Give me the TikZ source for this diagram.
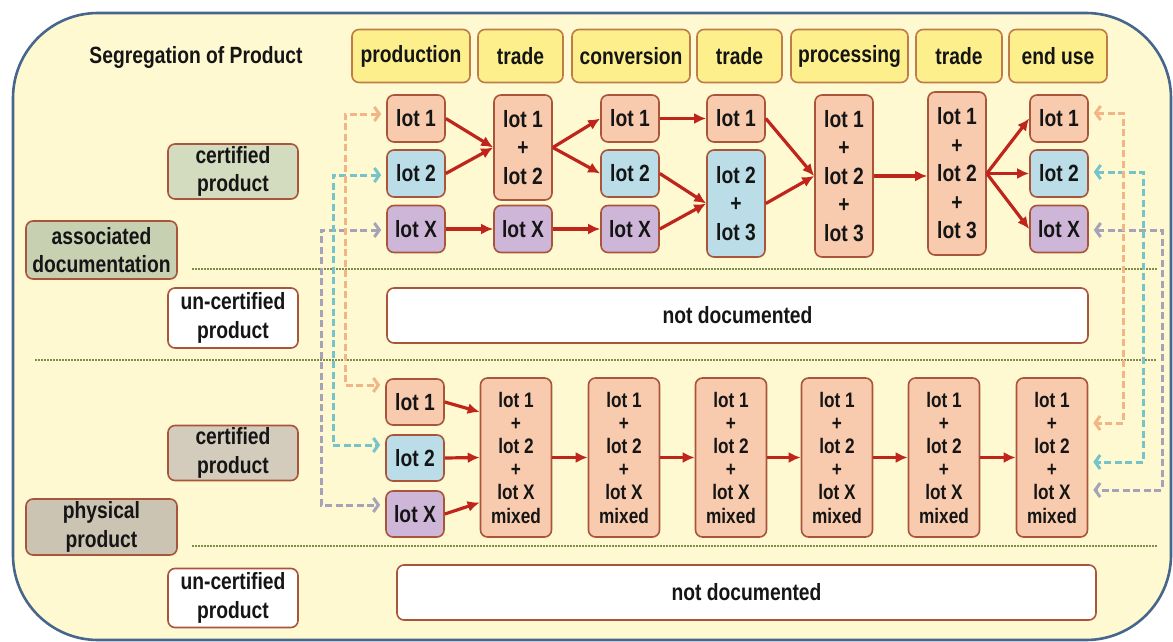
\documentclass[tikz,border=0pt]{standalone}
\usepackage{fontspec}
\setmainfont[FakeStretch=0.82]{Liberation Sans}
\usetikzlibrary{arrows.meta}
\definecolor{framef}{HTML}{FFF9D2}
\definecolor{frameb}{HTML}{46668C}
\definecolor{hdrf}{HTML}{FDF08C}
\definecolor{hdrb}{HTML}{BE7D48}
\definecolor{peach}{HTML}{F9CBAE}
\definecolor{lblue}{HTML}{BADDE8}
\definecolor{lav}{HTML}{CDB6D8}
\definecolor{lotb}{HTML}{A9553C}
\definecolor{sage}{HTML}{D4DCBF}
\definecolor{sagetwo}{HTML}{C8D0B2}
\definecolor{taupe}{HTML}{D3CBBB}
\definecolor{taupetwo}{HTML}{CCC4B2}
\definecolor{arrred}{HTML}{BF251B}
\definecolor{dotc}{HTML}{7C8C4C}
\definecolor{dor}{HTML}{F2B585}
\definecolor{dte}{HTML}{74C4CA}
\definecolor{dgr}{HTML}{A6A3B8}
\definecolor{txt}{HTML}{151515}
\tikzset{
  bx/.style={draw=lotb, line width=1.6pt, rounded corners=7pt, align=center, inner sep=0pt, text=txt},
  hdr/.style={bx, draw=hdrb, fill=hdrf, minimum height=53pt},
  lbl/.style={bx, minimum width=130pt},
  lotbox/.style={bx, minimum width=58pt, minimum height=47pt},
  multi/.style={lotbox, fill=peach, font={\bfseries\fontsize{23.5}{28.5}\selectfont}},
  mix/.style={bx, fill=peach, minimum width=71pt, minimum height=159pt, font={\bfseries\fontsize{21}{23.2}\selectfont}},
  rarr/.style={draw=arrred, line width=3.2pt, -{Latex[length=12pt,width=11pt]}},
  dsh/.style={line width=3pt, dash pattern=on 7pt off 3.5pt, {Straight Barb[length=5pt,width=14pt]}-{Straight Barb[length=5pt,width=14pt]}, shorten <=5pt, shorten >=5pt},
  dotl/.style={draw=dotc, line width=1.8pt, dash pattern=on 1.5pt off 1.5pt}
}
\begin{document}
\begin{tikzpicture}[x=1pt,y=-1pt,font={\bfseries\fontsize{23.5}{28.5}\selectfont}]
\useasboundingbox (0,0) rectangle (1173,642);
\fill[white] (0,0) rectangle (1173,642);
\draw[draw=frameb, fill=framef, line width=2.6pt, rounded corners=85pt] (13,13) rectangle (1171,640);
% separators
\coordinate (d1a) at (192,269); \coordinate (d1b) at (1157,269);
\coordinate (d2a) at (35,360);  \coordinate (d2b) at (1157,360);
\coordinate (d3a) at (192,546); \coordinate (d3b) at (1157,546);
\draw[dotl] (d1a) -- (d1b);
\draw[dotl] (d2a) -- (d2b);
\draw[dotl] (d3a) -- (d3b);
% title and headers
\node[text=txt] (title) at (196,57) {Segregation of Product};
\node[hdr, minimum width=118pt] (hP) at (411,56) {production};
\node[hdr, minimum width=85pt] (hT1) at (520.5,56) {trade};
\node[hdr, minimum width=118pt] (hC) at (631,56) {conversion};
\node[hdr, minimum width=85pt] (hT2) at (739.5,56) {trade};
\node[hdr, minimum width=117pt] (hPr) at (849.5,56) {processing};
\node[hdr, minimum width=86pt] (hT3) at (959,56) {trade};
\node[hdr, minimum width=98pt] (hE) at (1058,56) {end use};
% left labels
\node[lbl, fill=sage, minimum height=55pt] (cert1) at (233,171.5) {certified\\product};
\node[lbl, fill=sagetwo, minimum width=151pt, minimum height=58pt] (assoc) at (101.5,250) {associated\\documentation};
\node[lbl, fill=white, minimum height=60pt] (unc1) at (233,318) {un-certified\\product};
\node[lbl, fill=taupe, minimum height=55pt] (cert2) at (233,453) {certified\\product};
\node[lbl, fill=taupetwo, minimum width=151pt, minimum height=56pt] (phys) at (101.5,527) {physical\\product};
\node[lbl, fill=white, minimum height=59pt] (unc2) at (233,598) {un-certified\\product};
% not documented
\node[bx, fill=white, minimum width=701pt, minimum height=55pt] (ND1) at (737.5,315.5) {not documented};
\node[bx, fill=white, minimum width=699pt, minimum height=55pt] (ND2) at (746.5,592.5) {not documented};
% upper lots
\node[lotbox, fill=peach] (P1) at (416,118.5) {lot 1};
\node[lotbox, fill=lblue] (P2) at (416,173.5) {lot 2};
\node[lotbox, fill=lav] (PX) at (416,229) {lot X};
\node[multi, minimum height=105pt] (T12) at (523,147.5) {lot 1\\+\\lot 2};
\node[lotbox, fill=lav] (TX) at (523,229) {lot X};
\node[lotbox, fill=peach] (C1) at (630,118.5) {lot 1};
\node[lotbox, fill=lblue] (C2) at (630,173.5) {lot 2};
\node[lotbox, fill=lav] (CX) at (630,229) {lot X};
\node[lotbox, fill=peach] (T1) at (736,118.5) {lot 1};
\node[multi, fill=lblue, minimum height=107pt] (T23) at (736,203.5) {lot 2\\+\\lot 3};
\node[multi, minimum height=162pt] (PR) at (844,176) {lot 1\\+\\lot 2\\+\\lot 3};
\node[multi, minimum height=163pt] (T123) at (957,173.5) {lot 1\\+\\lot 2\\+\\lot 3};
\node[lotbox, fill=peach] (E1) at (1059,118.5) {lot 1};
\node[lotbox, fill=lblue] (E2) at (1059,173.5) {lot 2};
\node[lotbox, fill=lav] (EX) at (1059,229) {lot X};
% lower lots
\node[lotbox, fill=peach, minimum height=46pt] (L1) at (415,402) {lot 1};
\node[lotbox, fill=lblue, minimum height=46pt] (L2) at (415,458) {lot 2};
\node[lotbox, fill=lav, minimum height=46pt] (LX) at (415,514) {lot X};
\node[mix] (M1) at (516,457.5) {lot 1\\+\\lot 2\\+\\lot X\\mixed};
\node[mix] (M2) at (624,457.5) {lot 1\\+\\lot 2\\+\\lot X\\mixed};
\node[mix] (M3) at (731,457.5) {lot 1\\+\\lot 2\\+\\lot X\\mixed};
\node[mix] (M4) at (837,457.5) {lot 1\\+\\lot 2\\+\\lot X\\mixed};
\node[mix] (M5) at (944,457.5) {lot 1\\+\\lot 2\\+\\lot X\\mixed};
\node[mix] (M6) at (1052,457.5) {lot 1\\+\\lot 2\\+\\lot X\\mixed};
% red arrows upper
\draw[rarr] (P1.east) -- (T12.west);
\draw[rarr] (P2.east) -- (T12.west);
\draw[rarr] (PX) -- (TX);
\draw[rarr] (TX) -- (CX);
\draw[rarr] (T12.east) -- (C1.west);
\draw[rarr] (T12.east) -- (C2.west);
\draw[rarr] (C1) -- (T1);
\draw[rarr] (C2.east) -- (T23.west);
\draw[rarr] (CX.east) -- (T23.west);
\draw[rarr] (T1.east) -- (PR.west);
\draw[rarr] (T23.east) -- (PR.west);
\draw[rarr] (PR.east) -- (PR.east -| T123.west);
\draw[rarr] (T123.east) -- (E1.west);
\draw[rarr] (T123.east) -- (E2.west);
\draw[rarr] (T123.east) -- (EX.west);
% red arrows lower
\draw[rarr] (L1.east) -- ([yshift=45.5pt]M1.west);
\draw[rarr] (L2.east) -- (M1.west);
\draw[rarr] (LX.east) -- ([yshift=-45pt]M1.west);
\draw[rarr] (M1) -- (M2);
\draw[rarr] (M2) -- (M3);
\draw[rarr] (M3) -- (M4);
\draw[rarr] (M4) -- (M5);
\draw[rarr] (M5) -- (M6);
% dashed links left
\coordinate (oL) at (345,250);
\coordinate (tL) at (333,300);
\coordinate (gL) at (321,360);
\draw[dsh, draw=dgr] ([yshift=-1pt]PX.west) -| (gL) |- ([yshift=9pt]LX.west);
\draw[dsh, draw=dte] ([yshift=-1.5pt]P2.west) -| (tL) |- ([yshift=13pt]L2.west);
\draw[dsh, draw=dor] ([yshift=4.5pt]P1.west) -| (oL) |- ([yshift=17pt]L1.west);
% dashed links right
\coordinate (oR) at (1123,250);
\coordinate (tR) at (1143,300);
\coordinate (gR) at (1162,350);
\draw[dsh, draw=dgr] ([yshift=-1pt]EX.east) -| (gR) |- ([yshift=-32.5pt]M6.east);
\draw[dsh, draw=dte] ([yshift=1.5pt]E2.east) -| (tR) |- ([yshift=-4.5pt]M6.east);
\draw[dsh, draw=dor] ([yshift=5.5pt]E1.east) -| (oR) |- ([yshift=34.5pt]M6.east);
\end{tikzpicture}
\end{document}
